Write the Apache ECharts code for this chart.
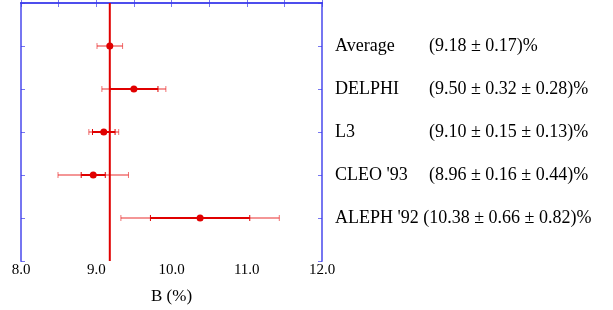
<!DOCTYPE html>
<html>
<head>
<meta charset="utf-8">
<script src="https://cdn.jsdelivr.net/npm/echarts@6/dist/echarts.min.js"></script>
<style>
  html, body { margin: 0; padding: 0; background: #fff; }
  #chart { width: 613px; height: 310px; }
</style>
</head>
<body>
<div id="chart"></div>
<script>
// measurements, top to bottom
var names = ['Average', 'DELPHI', 'L3', "CLEO '93", "ALEPH '92"];
var values = [9.18, 9.50, 9.10, 8.96, 10.38];
var statErr = [0.17, 0.32, 0.15, 0.16, 0.66];
var sysErr = [0, 0.28, 0.13, 0.44, 0.82];
var average = 9.18;
var xTicks = ['8.0', '9.0', '10.0', '11.0', '12.0'];

var red = '#e00000';
var lightRed = 'rgba(230,0,0,0.55)';
var blue = 'rgba(60,60,235,0.7)';
var font = '"Liberation Serif", "DejaVu Serif", serif';

var rows = values.map(function (v, i) {
  var tot = Math.sqrt(statErr[i] * statErr[i] + sysErr[i] * sysErr[i]);
  return [v, i + 1, statErr[i], tot, sysErr[i]];
});

function fmt(v) { return v.toFixed(2); }
var rightLabels = names.map(function (n, i) {
  var s = '(' + fmt(values[i]) + ' \u00b1 ' + fmt(statErr[i]);
  if (sysErr[i] > 0) s += ' \u00b1 ' + fmt(sysErr[i]);
  // long names just get a space instead of the column
  var head = n.length > 8 ? '{w|' + n + ' }' : '{n|' + n + '}';
  return head + '{v|' + s + ')%}';
});

function bar(api, x0, x1, y, style, w) {
  var a = api.coord([x0, y]), b = api.coord([x1, y]);
  var c = 3;
  return [
    { type: 'line', shape: { x1: a[0], y1: a[1], x2: b[0], y2: b[1] }, style: { stroke: style, lineWidth: w } },
    { type: 'line', shape: { x1: a[0], y1: a[1] - c, x2: a[0], y2: a[1] + c }, style: { stroke: style, lineWidth: 1 } },
    { type: 'line', shape: { x1: b[0], y1: b[1] - c, x2: b[0], y2: b[1] + c }, style: { stroke: style, lineWidth: 1 } }
  ];
}

var chart = echarts.init(document.getElementById('chart'));
chart.setOption({
  animation: false,
  grid: { left: 21, right: 291, top: 3, bottom: 49 },
  xAxis: [{
    type: 'value', min: 8, max: 12, interval: 0.5,
    name: 'B (%)', nameLocation: 'middle', nameGap: 27,
    nameTextStyle: { fontFamily: font, fontSize: 17, color: '#000' },
    axisLine: { lineStyle: { color: blue, width: 2 } },
    axisTick: { inside: true, length: 4, lineStyle: { color: blue, width: 1 } },
    splitLine: { show: false },
    axisLabel: {
      margin: 2, fontFamily: font, fontSize: 15, color: '#000',
      formatter: function (v) {
        var k = Math.round(v - 8);
        return Math.abs(v - Math.round(v)) < 1e-6 ? xTicks[k] : '';
      }
    }
  }, {
    type: 'value', min: 8, max: 12, interval: 0.5, position: 'top',
    axisLine: { lineStyle: { color: blue, width: 2 } },
    axisTick: { inside: true, length: 4, lineStyle: { color: blue, width: 1 } },
    splitLine: { show: false }, axisLabel: { show: false }
  }],
  yAxis: [{
    type: 'value', min: 0, max: 6, interval: 1, inverse: true,
    axisLine: { show: true, lineStyle: { color: blue, width: 2 } },
    axisTick: { show: true, inside: true, length: 4, lineStyle: { color: blue, width: 1 } },
    splitLine: { show: false }, axisLabel: { show: false }
  }, {
    type: 'value', min: 0, max: 6, interval: 1, inverse: true, position: 'right',
    axisLine: { show: true, lineStyle: { color: blue, width: 2 } },
    axisTick: { show: true, inside: true, length: 4, lineStyle: { color: blue, width: 1 } },
    splitLine: { show: false },
    axisLabel: {
      margin: 13, color: '#000', fontFamily: font, fontSize: 18,
      formatter: function (v) { return (v >= 1 && v <= 5) ? rightLabels[v - 1] : ''; },
      rich: {
        n: { width: 94, fontFamily: font, fontSize: 18, color: '#000' },
        w: { fontFamily: font, fontSize: 18, color: '#000' },
        v: { fontFamily: font, fontSize: 18, color: '#000' }
      }
    }
  }],
  series: [{
    type: 'line',
    data: [[average, 0], [average, 6]],
    symbol: 'none',
    lineStyle: { color: red, width: 2 },
    z: 3
  }, {
    type: 'custom',
    data: rows,
    z: 4,
    renderItem: function (params, api) {
      var v = api.value(0), y = api.value(1), st = api.value(2), tot = api.value(3), sy = api.value(4);
      var kids = bar(api, v - tot, v + tot, y, lightRed, 1.5);
      if (sy > 0) kids = kids.concat(bar(api, v - st, v + st, y, red, 2));
      var p = api.coord([v, y]);
      kids.push({ type: 'circle', shape: { cx: p[0], cy: p[1], r: 3.5 }, style: { fill: red } });
      return { type: 'group', children: kids };
    }
  }]
});
</script>
</body>
</html>
